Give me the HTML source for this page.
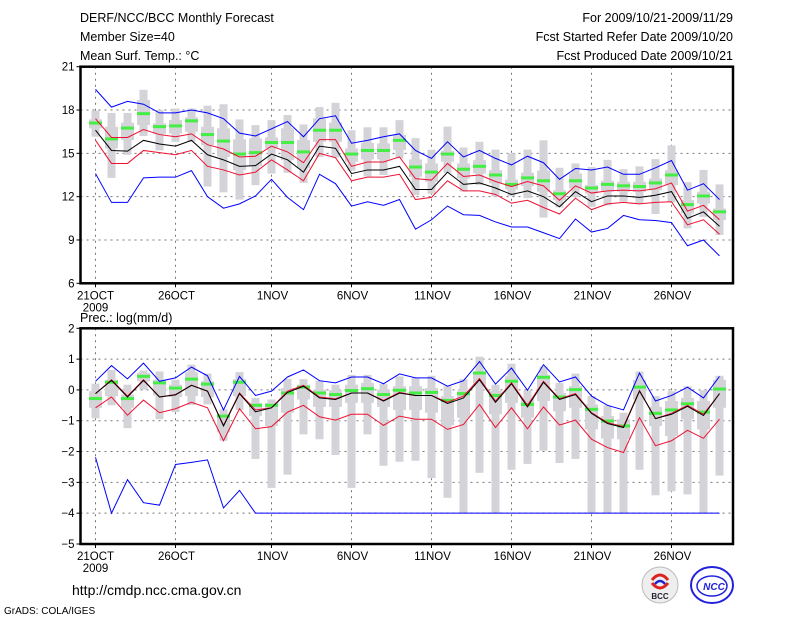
<!DOCTYPE html>
<html><head><meta charset="utf-8">
<style>
body{margin:0;background:#fff;}
svg{display:block;font-family:"Liberation Sans",sans-serif;}
</style></head>
<body>
<svg id="chart" width="800" height="618" viewBox="0 0 800 618" xmlns="http://www.w3.org/2000/svg">
<rect x="0" y="0" width="800" height="618" fill="#fff"/>
<g font-size="12.5" fill="#000">
<text x="80" y="22">DERF/NCC/BCC Monthly Forecast</text>
<text x="80" y="41">Member Size=40</text>
<text x="80" y="60">Mean Surf. Temp.: °C</text>
<text x="733" y="22" text-anchor="end">For 2009/10/21-2009/11/29</text>
<text x="733" y="41" text-anchor="end">Fcst Started Refer Date 2009/10/20</text>
<text x="733" y="60" text-anchor="end">Fcst Produced Date 2009/10/21</text>
<text x="80" y="322">Prec.: log(mm/d)</text>
<text x="72" y="595" font-size="14">http://cmdp.ncc.cma.gov.cn</text>
<text x="4" y="614" font-size="10">GrADS: COLA/IGES</text>
</g>
<g id="logos">
<circle cx="660" cy="585" r="18" fill="#eee" stroke="#bbb"/>
<path d="M652 580 q8 -10 16 0 M668 583 q-8 10 -16 0" stroke="#d22" stroke-width="3" fill="none"/>
<path d="M655 584 q5 -6 10 0" stroke="#22c" stroke-width="2.5" fill="none"/>
<text x="660" y="599" font-size="8" text-anchor="middle" font-weight="bold" fill="#223">BCC</text>
<ellipse cx="712" cy="585" rx="21" ry="18" fill="#fff" stroke="#22d" stroke-width="2"/>
<ellipse cx="712" cy="586" rx="15" ry="10" fill="none" stroke="#22d" stroke-width="1.5"/>
<text x="714" y="590" font-size="10" text-anchor="middle" font-weight="bold" font-style="italic" fill="#22d">NCC</text>
</g>
</svg>
<script>
// ---- Temperature data (°C) ----
const tBlueUp=[19.43,18.2,18.6,18.4,17.8,17.8,18.0,17.8,17.4,16.4,16.2,16.7,17.2,16.15,17.4,17.6,15.7,15.9,16.15,16.35,15.2,14.65,15.8,14.75,15.2,14.65,14.2,14.8,14.35,13.2,13.95,13.85,14.05,13.55,13.55,14.0,14.5,12.45,12.9,11.8];
const tRedUp=[17.4,16.1,16.1,16.65,16.3,16.15,16.35,15.6,15.3,14.75,14.8,15.5,15.1,14.35,15.95,15.95,14.1,14.4,14.4,14.75,13.25,13.15,14.3,13.4,13.5,13.05,12.7,13.05,12.75,11.75,12.75,12.25,12.4,12.45,12.4,12.55,12.95,11.0,11.4,10.4];
const tMean=[16.6,15.2,15.15,15.9,15.65,15.5,15.9,14.9,14.55,14.1,14.15,14.95,14.55,13.7,15.5,15.35,13.6,13.85,13.85,14.1,12.5,12.5,13.7,12.85,12.95,12.6,12.15,12.4,12.0,11.3,12.35,11.65,12.05,12.05,11.95,12.1,12.35,10.5,10.95,9.95];
const tRedLow=[15.9,14.3,14.3,15.2,15.05,14.9,15.2,14.1,13.85,13.5,13.7,14.55,13.85,13.1,15.0,14.7,13.1,13.35,13.35,13.55,11.8,11.95,13.1,12.4,12.4,12.15,11.55,11.75,11.25,10.8,11.9,11.1,11.5,11.6,11.5,11.6,11.65,10.05,10.4,9.4];
const tBlueLow=[13.6,11.6,11.6,13.3,13.35,13.35,13.8,12.0,11.2,11.5,12.05,13.2,11.95,11.1,13.55,12.9,11.35,11.65,11.4,11.8,9.75,10.4,11.35,10.75,10.7,10.25,9.9,9.9,9.5,9.1,10.45,9.55,9.8,10.7,10.4,10.35,10.2,8.6,9.0,7.9];
const tMedian=[17.1,16.0,16.75,17.75,16.85,16.9,17.25,16.3,15.85,14.95,15.05,15.75,15.75,15.1,16.6,16.6,14.95,15.2,15.2,15.9,14.05,13.7,14.95,13.9,14.1,13.5,12.85,13.3,13.1,12.2,13.1,12.6,12.85,12.75,12.7,12.95,13.5,11.45,12.05,10.95];
const tBoxMax=[17.95,17.8,17.8,19.4,18.0,18.1,18.1,18.3,18.4,17.35,16.95,17.3,17.65,17.0,18.2,18.5,16.6,16.8,16.8,17.3,16.05,15.25,16.85,15.4,15.8,15.25,15.0,15.25,15.9,14.0,14.3,14.05,14.55,13.9,14.1,14.6,15.55,13.0,13.85,12.85];
const tBoxMin=[16.15,13.3,14.9,16.2,15.2,15.8,15.8,12.7,12.3,11.8,12.8,13.6,13.65,12.95,14.75,14.7,13.8,13.4,13.5,14.65,12.1,12.2,13.65,12.35,12.8,12.0,12.05,11.9,10.55,11.25,11.95,11.3,11.4,11.65,11.5,10.8,11.6,9.8,10.6,9.35];
const tQ3=[17.35,16.84,17.12,18.69,17.07,17.3,17.49,16.84,16.73,15.97,16.03,16.1,16.73,15.92,17.42,17.12,15.34,15.73,15.69,16.27,14.58,14.3,15.18,14.3,14.53,13.84,13.19,13.66,13.8,12.45,13.61,12.8,13.1,13.03,13.03,13.26,13.84,11.76,12.34,11.18];
const tQ1=[16.73,15.34,15.92,16.96,16.33,16.38,16.5,15.57,14.76,13.84,14.12,15.34,14.53,13.96,15.8,15.8,14.42,14.58,14.58,15.23,13.38,13.03,14.42,13.26,13.61,12.92,12.5,12.73,12.34,11.76,12.57,12.22,12.34,12.34,12.34,12.45,12.8,10.84,11.53,10.38];
const tTicks=[6,9,12,15,18,21];
// ---- Precip data (log mm/d) ----
const pBlueUp=[0.28,0.79,0.36,0.87,0.28,0.39,0.74,0.46,-0.65,0.44,-0.18,-0.04,0.42,0.65,0.3,0.23,0.42,0.42,0.2,0.52,0.39,0.39,0.12,0.3,0.92,0.19,0.71,-0.01,0.82,0.26,0.42,-0.2,-0.5,-0.65,0.55,-0.36,-0.18,0.09,-0.26,0.44];
const pRedUp=[-0.12,0.33,-0.2,0.33,-0.23,-0.15,0.15,-0.04,-1.15,-0.1,-0.65,-0.58,-0.04,0.15,-0.23,-0.29,-0.1,-0.1,-0.34,-0.08,-0.18,-0.18,-0.4,-0.2,0.37,-0.36,0.23,-0.5,0.28,-0.29,-0.12,-0.74,-1.06,-1.19,-0.02,-0.93,-0.76,-0.5,-0.79,-0.12];
const pMean=[-0.12,0.31,-0.23,0.31,-0.23,-0.16,0.15,-0.04,-1.17,-0.12,-0.71,-0.58,-0.08,0.12,-0.26,-0.31,-0.1,-0.1,-0.36,-0.1,-0.18,-0.18,-0.44,-0.26,0.33,-0.4,0.2,-0.55,0.25,-0.31,-0.15,-0.76,-1.09,-1.22,-0.04,-0.93,-0.79,-0.53,-0.83,-0.12];
const pRedLow=[-0.58,-0.23,-0.82,-0.33,-0.74,-0.61,-0.4,-0.58,-1.65,-0.61,-1.26,-1.19,-0.72,-0.5,-0.87,-0.98,-0.79,-0.79,-1.15,-0.85,-0.95,-0.95,-1.28,-1.12,-0.47,-1.22,-0.58,-1.26,-0.55,-1.14,-0.98,-1.6,-1.87,-2.03,-0.9,-1.81,-1.65,-1.31,-1.57,-0.95];
const pBlueLow=[-2.19,-4.0,-2.91,-3.66,-3.74,-2.42,-2.35,-2.27,-3.83,-3.26,-4,-4,-4,-4,-4,-4,-4,-4,-4,-4,-4,-4,-4,-4,-4,-4,-4,-4,-4,-4,-4,-4,-4,-4,-4,-4,-4,-4,-4,-4];
const pMedian=[-0.28,0.25,-0.28,0.44,0.23,0.06,0.35,0.19,-0.85,0.25,-0.5,-0.5,-0.1,0.09,-0.1,-0.15,-0.02,0.04,-0.15,-0.01,-0.1,-0.08,-0.34,-0.12,0.55,-0.18,0.28,-0.47,0.41,-0.23,0.01,-0.63,-1.01,-1.17,0.09,-0.76,-0.65,-0.45,-0.72,0.03];
const pBoxMax=[0.2,0.65,0.17,0.63,0.6,0.33,0.82,0.53,-0.63,0.58,-0.26,-0.31,0.36,0.35,0.3,0.17,0.49,0.49,0.19,0.44,0.39,0.46,0.12,0.35,1.08,0.17,0.85,-0.01,0.76,0.23,0.53,-0.2,-0.5,-0.74,0.6,-0.2,-0.04,0.12,-0.01,0.46];
const pBoxMin=[-0.92,-0.5,-1.24,0.01,-0.95,-0.72,-0.49,-0.47,-1.65,-0.65,-2.24,-3.18,-2.75,-1.44,-1.6,-2.11,-3.18,-1.44,-2.46,-2.33,-2.3,-2.86,-3.5,-3.98,-2.69,-3.98,-2.59,-2.4,-1.97,-2.37,-2.24,-3.98,-3.98,-3.98,-2.59,-3.42,-3.29,-3.39,-3.98,-2.78];
const pQ3=[-0.04,0.33,-0.15,0.55,0.33,0.17,0.57,0.28,-0.79,0.35,-0.42,-0.42,0.06,0.17,0.01,-0.01,0.17,0.23,0.01,0.12,0.12,0.06,-0.2,-0.04,0.6,-0.04,0.44,-0.29,0.49,-0.1,0.12,-0.47,-0.85,-0.95,0.33,-0.55,-0.36,-0.26,-0.36,0.33];
const pQ1=[-0.58,-0.2,-0.58,0.28,-0.18,-0.23,-0.2,-0.23,-1.38,-0.2,-0.85,-1.17,-0.74,-0.31,-0.55,-0.55,-0.42,-0.42,-0.55,-0.65,-0.65,-0.74,-1.15,-0.9,0.12,-0.79,-0.42,-0.9,-0.36,-0.69,-0.58,-1.28,-1.58,-1.6,-0.31,-1.17,-1.49,-0.95,-1.28,-0.58];
const pTicks=[-5,-4,-3,-2,-1,0,1,2];
// ---- x axis ----
const xTickDays=[0,5,11,16,21,26,31,36];
const xTickLabels=["21OCT","26OCT","1NOV","6NOV","11NOV","16NOV","21NOV","26NOV"];

const NS="http://www.w3.org/2000/svg";
const svg=document.getElementById('chart');
const X0=80.5,X1=733;
function xDay(d){return 95.5+16*d;}
function mk(tag,attrs,parent){const e=document.createElementNS(NS,tag);for(const k in attrs)e.setAttribute(k,attrs[k]);(parent||svg).appendChild(e);return e;}

function panel(cfg){
  const {top,bottom,vmin,vmax,ticks,name}=cfg;
  const y=v=>top+(vmax-v)*(bottom-top)/(vmax-vmin);
  const g=mk('g',{});
  
  
  // grid
  ticks.forEach(t=>{
    if(t===vmin||t===vmax)return;
    const l=mk('line',{x1:X0,x2:X1,y1:y(t),y2:y(t),stroke:'#777','stroke-dasharray':'2,4','stroke-width':1},g);
    
    
  });
  xTickDays.forEach(d=>{
    const l=mk('line',{x1:xDay(d),x2:xDay(d),y1:top,y2:bottom,stroke:'#777','stroke-dasharray':'2,4','stroke-width':1},g);
    
    
  });
  // boxes
  for(let i=0;i<cfg.med.length;i++){
    const cx=xDay(i);
    const r1=mk('rect',{x:cx-4,y:y(cfg.bmax[i]),width:8,height:Math.max(1,y(cfg.bmin[i])-y(cfg.bmax[i])),fill:'#d3d3d8'},g);
    
    
    const r2=mk('rect',{x:cx-6.5,y:y(cfg.q3[i]),width:13,height:Math.max(1,y(cfg.q1[i])-y(cfg.q3[i])),fill:'#d3d3d8'},g);
    
    
  }
  for(let i=0;i<cfg.med.length;i++){
    const r=mk('rect',{x:xDay(i)-6.5,y:y(cfg.med[i])-1.5,width:13,height:3,fill:'#44ee44'},g);
    
    
  }
  const lines=[[cfg.bup,'#0000ff','upper-max'],[cfg.bdn,'#0000ff','lower-min'],[cfg.rup,'#ee1133','upper-sd'],[cfg.rdn,'#ee1133','lower-sd'],[cfg.mean,'#000000','ensemble-mean']];
  lines.forEach(([arr,c,n])=>{
    const p=mk('polyline',{points:arr.map((v,i)=>xDay(i)+','+y(v)).join(' '),fill:'none',stroke:c,'stroke-width':1},g);
    
    
  });
  // frame
  const f=mk('rect',{x:X0,y:top,width:X1-X0,height:bottom-top,fill:'none',stroke:'#000','stroke-width':2.5},g);
  
  
  ticks.forEach(t=>{
    const tk=mk('line',{x1:X0-4,x2:X0,y1:y(t),y2:y(t),stroke:'#000'},g);
    
    
    const tx=mk('text',{x:X0-6,y:y(t)+4,'text-anchor':'end','font-size':11.5},g);
    tx.textContent=(t<0?'\u2212'+(-t):t);
    
    
  });
  xTickDays.forEach((d,k)=>{
    const tk=mk('line',{x1:xDay(d),x2:xDay(d),y1:bottom,y2:bottom+4,stroke:'#000'},g);
    
    
    const tx=mk('text',{x:xDay(d)+(k==0?0:1),y:bottom+16,'text-anchor':'middle','font-size':11.5},g);
    tx.textContent=xTickLabels[k];
    
    
  });
  const yr=mk('text',{x:xDay(0),y:bottom+28,'text-anchor':'middle','font-size':11.5},g);
  yr.textContent='2009';
  
  
}
panel({name:'temperature',top:66.7,bottom:283.3,vmin:6,vmax:21,ticks:tTicks,
  med:tMedian,bmax:tBoxMax,bmin:tBoxMin,q3:tQ3,q1:tQ1,bup:tBlueUp,bdn:tBlueLow,rup:tRedUp,rdn:tRedLow,mean:tMean});
panel({name:'precip',top:328.3,bottom:544,vmin:-5,vmax:2,ticks:pTicks,
  med:pMedian,bmax:pBoxMax,bmin:pBoxMin,q3:pQ3,q1:pQ1,bup:pBlueUp,bdn:pBlueLow,rup:pRedUp,rdn:pRedLow,mean:pMean});
</script>
</body></html>
